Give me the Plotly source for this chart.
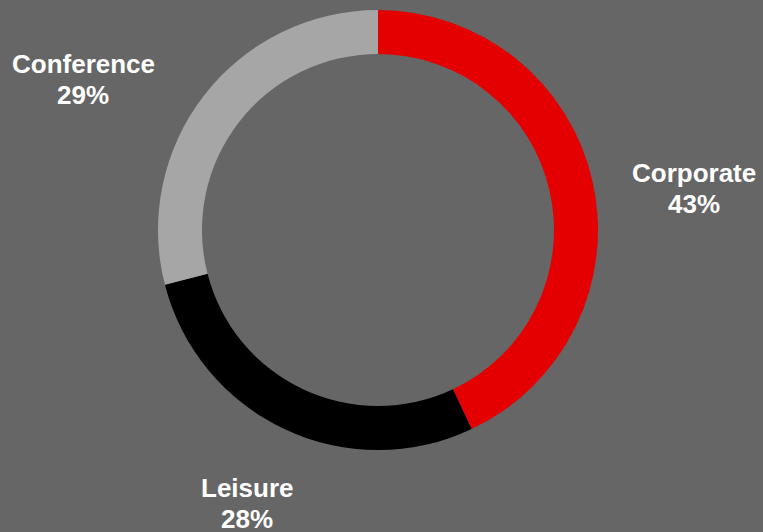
import plotly.graph_objects as go

# Revenue mix by segment
segments = ["Corporate", "Leisure", "Conference"]
shares = [43, 28, 29]
colors = ["#E40000", "#000000", "#A6A6A6"]

W, H = 763, 532
BG = "#666666"

# Ring domain in pixels (left, right, top, bottom)
RING_L, RING_R, RING_T, RING_B = 158, 598, 10, 450
SIZE = RING_R - RING_L

# Label block centres, in pixels from the top-left corner
label_px = [(694, 188.5), (247, 503.5), (83, 79)]
LINE_GAP = 31
FONT = dict(family="Liberation Sans, Arial, sans-serif", size=26, color="#FFFFFF")

fig = go.Figure(
    go.Pie(
        labels=segments,
        values=shares,
        marker=dict(colors=colors, line=dict(width=0)),
        hole=0.8,
        sort=False,
        direction="clockwise",
        rotation=0,
        textinfo="none",
        hoverinfo="label+percent",
        showlegend=False,
    )
)

total = sum(shares)
for seg, val, (px, py) in zip(segments, shares, label_px):
    pct = round(100 * val / total)
    x = (px - RING_L) / SIZE
    y = (RING_B - py) / SIZE
    for txt, shift in ((f"<b>{seg}</b>", LINE_GAP / 2), (f"<b>{pct}%</b>", -LINE_GAP / 2)):
        fig.add_annotation(
            x=x, y=y, xref="paper", yref="paper", yshift=shift,
            text=txt, showarrow=False,
            xanchor="center", yanchor="middle",
            font=FONT,
        )

fig.update_layout(
    width=W, height=H,
    paper_bgcolor=BG, plot_bgcolor=BG,
    margin=dict(l=RING_L, r=W - RING_R, t=RING_T, b=H - RING_B),
)

fig.write_html("out.html")
